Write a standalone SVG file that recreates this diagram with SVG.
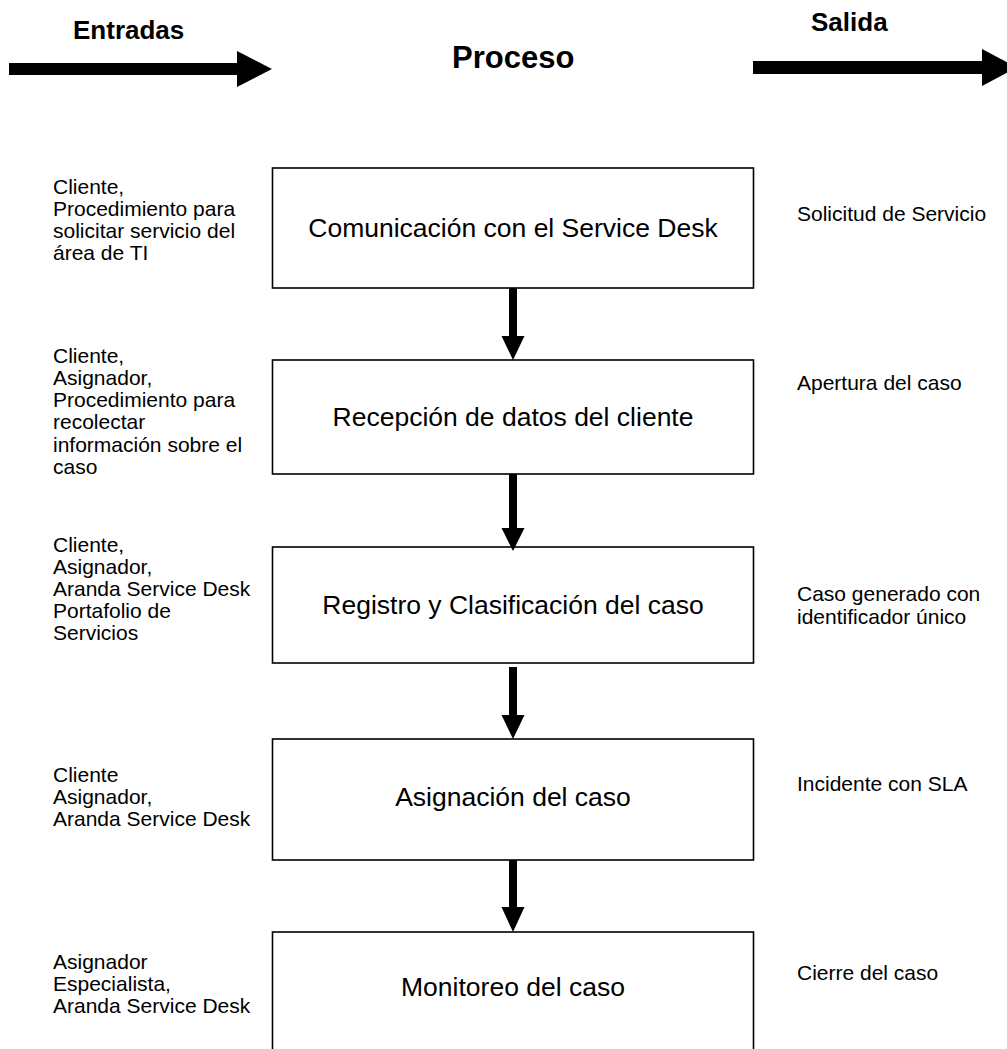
<svg xmlns="http://www.w3.org/2000/svg" width="1007" height="1049" viewBox="0 0 1007 1049">
  <style>
    .head { font-family: "Liberation Sans", Arial, sans-serif; font-weight: bold; fill: #000; }
    .box { fill: #fff; stroke: #000; stroke-width: 1.6; }
    .step { font-family: "Liberation Sans", Arial, sans-serif; font-size: 26.5px; fill: #000; text-anchor: middle; }
    .note { font-family: "Liberation Sans", Arial, sans-serif; font-size: 21px; fill: #000; }
    .flow { fill: #000; }
  </style>

  <!-- column headers with thick arrows -->
  <g id="header-entradas">
    <text class="head" x="73" y="39" font-size="26">Entradas</text>
    <rect class="flow" x="9" y="63" width="229" height="12"/>
    <polygon class="flow" points="237,51 272,69 237,87"/>
  </g>
  <g id="header-proceso">
    <text class="head" x="452" y="68" font-size="31">Proceso</text>
  </g>
  <g id="header-salida">
    <text class="head" x="811" y="31" font-size="26">Salida</text>
    <rect class="flow" x="753" y="61" width="230" height="13"/>
    <polygon class="flow" points="982,49 1017,67.5 982,86"/>
  </g>

  <!-- process steps -->
  <g id="step-comunicacion">
    <rect class="box" x="272.5" y="168" width="481" height="120"/>
    <text class="step" x="513" y="237">Comunicación con el Service Desk</text>
  </g>
  <g id="step-recepcion">
    <rect class="box" x="272.5" y="360" width="481" height="114"/>
    <text class="step" x="513" y="426">Recepción de datos del cliente</text>
  </g>
  <g id="step-registro">
    <rect class="box" x="272.5" y="547" width="481" height="116"/>
    <text class="step" x="513" y="614">Registro y Clasificación del caso</text>
  </g>
  <g id="step-asignacion">
    <rect class="box" x="272.5" y="739" width="481" height="121"/>
    <text class="step" x="513" y="806">Asignación del caso</text>
  </g>
  <g id="step-monitoreo">
    <rect class="box" x="272.5" y="932" width="481" height="130"/>
    <text class="step" x="513" y="996">Monitoreo del caso</text>
  </g>

  <!-- connectors between steps -->
  <g id="connectors">
    <rect class="flow" x="509" y="288" width="8" height="49"/>
    <polygon class="flow" points="501.5,336 524.5,336 513,360"/>
    <rect class="flow" x="509" y="474" width="8" height="55"/>
    <polygon class="flow" points="501.5,528 524.5,528 513,551"/>
    <rect class="flow" x="509" y="667" width="8" height="49"/>
    <polygon class="flow" points="501.5,715 524.5,715 513,739"/>
    <rect class="flow" x="509" y="860" width="8" height="48"/>
    <polygon class="flow" points="501.5,907 524.5,907 513,932"/>
  </g>

  <!-- inputs -->
  <g id="inputs-1">
    <text class="note" x="53" y="194">Cliente,</text>
    <text class="note" x="53" y="216">Procedimiento para</text>
    <text class="note" x="53" y="238">solicitar servicio del</text>
    <text class="note" x="53" y="260">área de TI</text>
  </g>
  <g id="inputs-2">
    <text class="note" x="53" y="363">Cliente,</text>
    <text class="note" x="53" y="385">Asignador,</text>
    <text class="note" x="53" y="407">Procedimiento para</text>
    <text class="note" x="53" y="429">recolectar</text>
    <text class="note" x="53" y="452">información sobre el</text>
    <text class="note" x="53" y="474">caso</text>
  </g>
  <g id="inputs-3">
    <text class="note" x="53" y="552">Cliente,</text>
    <text class="note" x="53" y="574">Asignador,</text>
    <text class="note" x="53" y="596">Aranda Service Desk</text>
    <text class="note" x="53" y="618">Portafolio de</text>
    <text class="note" x="53" y="640">Servicios</text>
  </g>
  <g id="inputs-4">
    <text class="note" x="53" y="782">Cliente</text>
    <text class="note" x="53" y="804">Asignador,</text>
    <text class="note" x="53" y="826">Aranda Service Desk</text>
  </g>
  <g id="inputs-5">
    <text class="note" x="53" y="969">Asignador</text>
    <text class="note" x="53" y="991">Especialista,</text>
    <text class="note" x="53" y="1013">Aranda Service Desk</text>
  </g>

  <!-- outputs -->
  <g id="output-1"><text class="note" x="797" y="221">Solicitud de Servicio</text></g>
  <g id="output-2"><text class="note" x="797" y="390">Apertura del caso</text></g>
  <g id="output-3">
    <text class="note" x="797" y="601">Caso generado con</text>
    <text class="note" x="797" y="624">identificador único</text>
  </g>
  <g id="output-4"><text class="note" x="797" y="791">Incidente con SLA</text></g>
  <g id="output-5"><text class="note" x="797" y="980">Cierre del caso</text></g>
</svg>
